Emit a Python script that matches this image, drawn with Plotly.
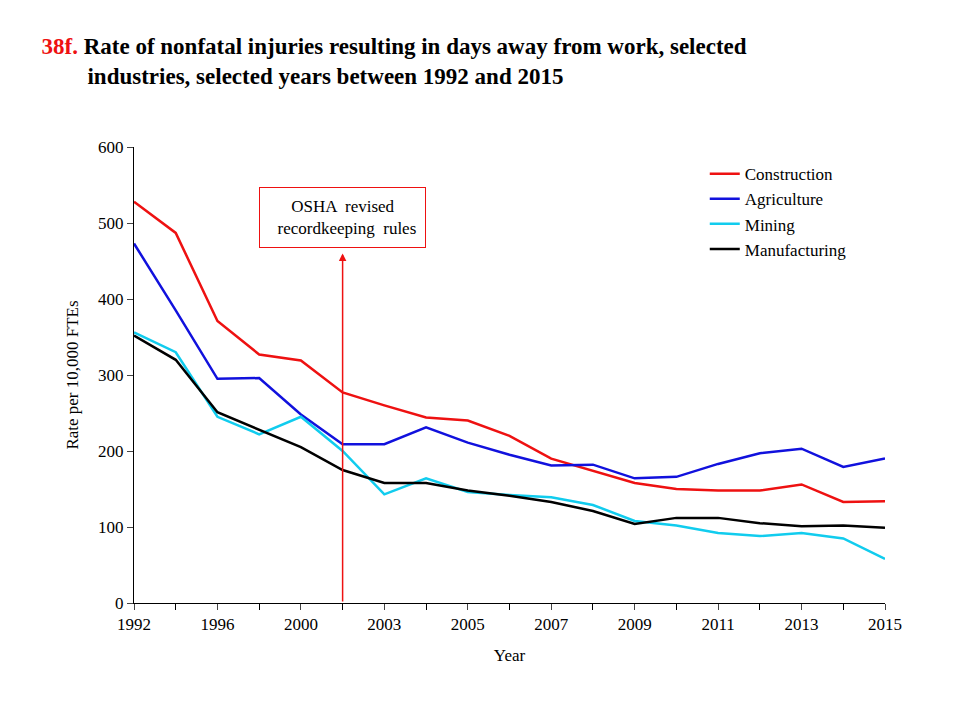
import plotly.graph_objects as go

years = ["1992","1994","1996","1998","2000","2002","2003","2004","2005","2006","2007","2008","2009","2010","2011","2012","2013","2014","2015"]
tick_labels = ["1992","1996","2000","2003","2005","2007","2009","2011","2013","2015"]
construction = [528,487,371,327,319,277,260,244,240,220,190,174,158,150,148,148,156,133,134]
agriculture = [473,385,295,296,248,209,209,231,211,195,181,182,164,166,183,197,203,179,190]
mining = [356,330,245,222,245,200,143,164,146,142,139,129,108,102,92,88,92,85,58]
manufacturing = [352,320,251,228,205,175,158,158,148,141,133,121,104,112,112,105,101,102,99]

xs = list(range(len(years)))
fig = go.Figure()
for name, ys, c in [("Construction", construction, "#ee1111"), ("Agriculture", agriculture, "#1111dd"),
                    ("Mining", mining, "#11ccee"), ("Manufacturing", manufacturing, "#000000")]:
    fig.add_trace(go.Scatter(x=xs, y=ys, name=name, mode="lines", line=dict(color=c, width=2.5)))

tickvals = [years.index(t) for t in tick_labels]
font = dict(family="Liberation Serif", size=17, color="black")
fig.update_layout(
    width=957, height=714, plot_bgcolor="white", paper_bgcolor="white",
    margin=dict(l=126, r=80, t=139, b=119), font=font,
    title=dict(text="<b><span style='color:#ee1111'>38f.</span> Rate of nonfatal injuries resulting in days away from work, selected<br>        industries, selected years between 1992 and 2015</b>",
               x=0.035, xanchor="left", y=0.935, yanchor="top", font=dict(family="Liberation Serif", size=23, color="black")),
    legend=dict(x=0.76, y=0.98, xanchor="left", yanchor="top", font=font, tracegroupgap=18, itemwidth=30, bgcolor="rgba(0,0,0,0)"),
    xaxis=dict(range=[0, len(years)-1], tickvals=tickvals, ticktext=tick_labels, showline=True, linecolor="black",
               ticks="outside", ticklen=6, showgrid=False, zeroline=False, title=dict(text="Year", font=font),
               minor=dict(tickvals=xs, ticks="outside", ticklen=6, tickcolor="black")),
    yaxis=dict(range=[0, 600], dtick=100, showline=True, linecolor="black", ticks="outside", ticklen=6,
               showgrid=False, zeroline=False, title=dict(text="Rate per 10,000 FTEs", font=font)),
)
fig.add_annotation(x=years.index("2002"), y=460, ax=years.index("2002"), ay=0, xref="x", yref="y", axref="x", ayref="y",
                   showarrow=True, arrowhead=2, arrowsize=1, arrowwidth=1.5, arrowcolor="#ee1111", text="")
fig.add_annotation(x=years.index("2002"), y=507, xref="x", yref="y", showarrow=False,
                   text="OSHA  revised<br>  recordkeeping  rules", bordercolor="#ee1111", borderwidth=1, borderpad=9,
                   bgcolor="white", font=font)
fig.write_html("out.html")
